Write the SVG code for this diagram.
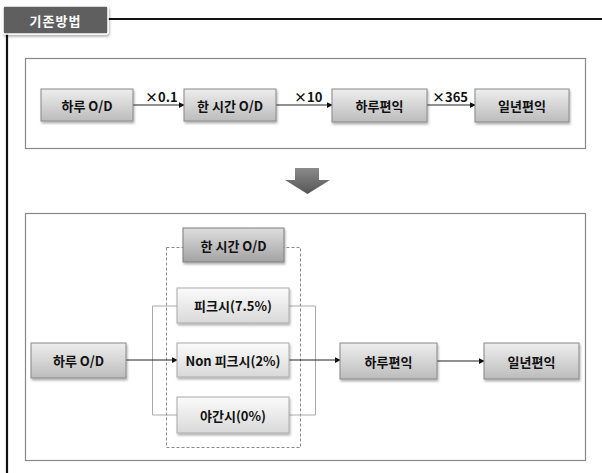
<svg xmlns="http://www.w3.org/2000/svg" width="602" height="473" viewBox="0 0 602 473">
<defs>
<linearGradient id="gMid" x1="0" y1="0" x2="0" y2="1">
<stop offset="0" stop-color="#eeeeee"/><stop offset="1" stop-color="#bcbcbc"/>
</linearGradient>
<linearGradient id="gDark" x1="0" y1="0" x2="0" y2="1">
<stop offset="0" stop-color="#dedede"/><stop offset="1" stop-color="#a3a3a3"/>
</linearGradient>
<linearGradient id="gLight" x1="0" y1="0" x2="0" y2="1">
<stop offset="0" stop-color="#fbfbfb"/><stop offset="1" stop-color="#d9d9d9"/>
</linearGradient>
<linearGradient id="gArrow" x1="0" y1="0" x2="0" y2="1">
<stop offset="0" stop-color="#8a8a8a"/><stop offset="1" stop-color="#555555"/>
</linearGradient>
<filter id="sh" x="-10%" y="-10%" width="130%" height="140%">
<feDropShadow dx="1" dy="2" stdDeviation="1.2" flood-color="#000" flood-opacity="0.3"/>
</filter>
<marker id="ah" viewBox="0 0 8 8" refX="7" refY="4" markerWidth="6" markerHeight="6" orient="auto" markerUnits="userSpaceOnUse">
<path d="M0,0 L8,4 L0,8 Z" fill="#111"/>
</marker>
</defs>
<style>
.t{font-family:"Noto Sans CJK KR","Noto Sans",sans-serif;font-size:13px;font-weight:bold;fill:#111;text-anchor:middle;dominant-baseline:central}
.lbl{font-family:"Noto Sans CJK KR","Noto Sans",sans-serif;font-size:13px;font-weight:bold;fill:#111}
.mid{fill:url(#gMid);stroke:#888;stroke-width:1}
.dark{fill:url(#gDark);stroke:#7d7d7d;stroke-width:1}
.light{fill:url(#gLight);stroke:#aaa;stroke-width:1}
.panel{fill:#fff;stroke:#888;stroke-width:1.2}
.con{fill:none;stroke:#222;stroke-width:1}
.brk{fill:none;stroke:#aaa;stroke-width:1}
</style>
<rect width="602" height="473" fill="#fff"/>

<g id="header">
<line x1="108" y1="19" x2="602" y2="19" stroke="#111" stroke-width="2"/>
<line x1="7" y1="34" x2="7" y2="473" stroke="#111" stroke-width="2.2"/>
<rect x="3" y="6" width="105" height="28" rx="2" fill="#5e5e5e" stroke="#fff" stroke-width="1.5" filter="url(#sh)"/>
<text x="55.5" y="20.5" font-family="Noto Sans CJK KR,sans-serif" font-size="13px" font-weight="bold" fill="#fff" text-anchor="middle" dominant-baseline="central" letter-spacing="1">기존방법</text>
</g>

<g id="panel-top"><rect class="panel" x="25.5" y="58.5" width="560" height="90"/></g>
<g id="panel-bottom"><rect class="panel" x="25.5" y="213.5" width="560" height="247"/></g>

<g id="down-arrow">
<path d="M295,168 L319,168 L319,180 L330,180 L307.5,194 L285,180 L295,180 Z" fill="url(#gArrow)"/>
</g>

<g id="connectors">
<line class="con" x1="133" y1="105" x2="184" y2="105" marker-end="url(#ah)"/>
<line class="con" x1="276" y1="105" x2="332" y2="105" marker-end="url(#ah)"/>
<line class="con" x1="427" y1="105" x2="475" y2="105" marker-end="url(#ah)"/>
<rect x="166.5" y="247.5" width="134" height="200" fill="none" stroke="#888" stroke-width="1" stroke-dasharray="3,2"/>
<polyline class="brk" points="177,306 152.5,306 152.5,415 177,415"/>
<polyline class="brk" points="289,306 315.5,306 315.5,415 289,415"/>
<line class="con" x1="126" y1="360" x2="177" y2="360" marker-end="url(#ah)"/>
<line class="con" x1="289" y1="360" x2="340" y2="360" marker-end="url(#ah)"/>
<line class="con" x1="437" y1="361" x2="484" y2="361" marker-end="url(#ah)"/>
</g>

<g id="labels">
<text class="lbl" x="145" y="102">×0.1</text>
<text class="lbl" x="294" y="102">×10</text>
<text class="lbl" x="432" y="102">×365</text>
</g>

<g id="n1"><rect class="mid" x="41" y="89" width="92" height="32" filter="url(#sh)"/><text class="t" x="87" y="105">하루 O/D</text></g>
<g id="n2"><rect class="mid" x="184" y="89" width="92" height="32" filter="url(#sh)"/><text class="t" x="230" y="105">한 시간 O/D</text></g>
<g id="n3"><rect class="mid" x="332" y="89" width="95" height="33" filter="url(#sh)"/><text class="t" x="379.5" y="105.5">하루편익</text></g>
<g id="n4"><rect class="mid" x="475" y="89" width="94" height="33" filter="url(#sh)"/><text class="t" x="522" y="105.5">일년편익</text></g>

<g id="b-hour"><rect class="dark" x="183" y="228" width="101" height="34" filter="url(#sh)"/><text class="t" x="233.5" y="245">한 시간 O/D</text></g>
<g id="b-peak"><rect class="light" x="177" y="288" width="112" height="35" filter="url(#sh)"/><text class="t" x="233" y="305.5">피크시(7.5%)</text></g>
<g id="b-nonpeak"><rect class="light" x="177" y="343" width="112" height="34" filter="url(#sh)"/><text class="t" x="233" y="360">Non 피크시(2%)</text></g>
<g id="b-night"><rect class="light" x="177" y="397" width="112" height="36" filter="url(#sh)"/><text class="t" x="233" y="415">야간시(0%)</text></g>
<g id="b-day"><rect class="mid" x="31" y="343" width="95" height="35" filter="url(#sh)"/><text class="t" x="78.5" y="360.5">하루 O/D</text></g>
<g id="b-benefit"><rect class="mid" x="340" y="343" width="97" height="36" filter="url(#sh)"/><text class="t" x="388.5" y="361">하루편익</text></g>
<g id="b-year"><rect class="mid" x="484" y="343" width="95" height="36" filter="url(#sh)"/><text class="t" x="531.5" y="361">일년편익</text></g>
</svg>
